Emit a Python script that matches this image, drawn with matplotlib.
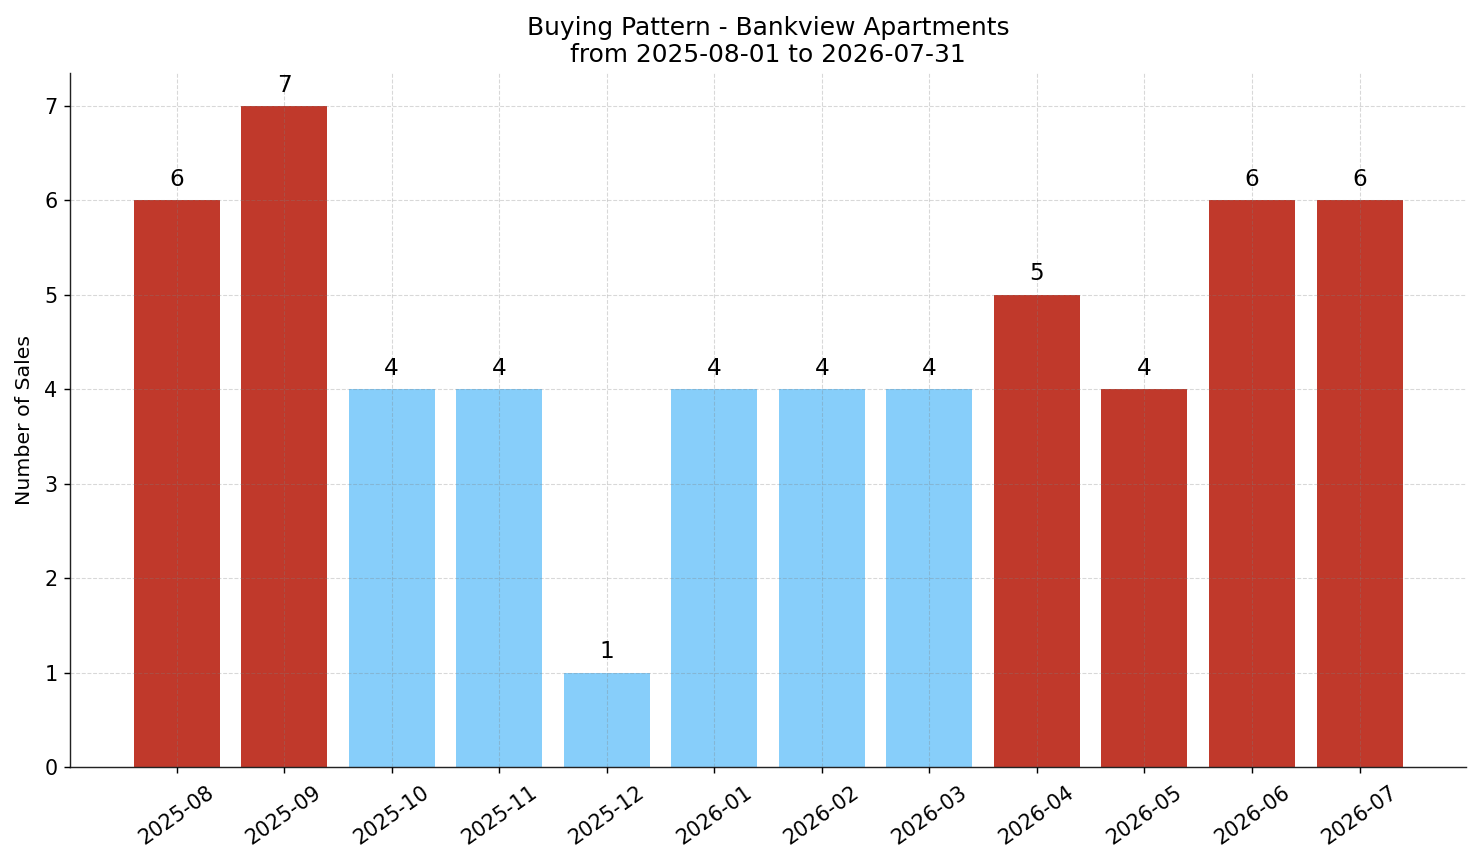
import matplotlib
matplotlib.use("Agg")
import matplotlib.pyplot as plt

months = ["2025-08", "2025-09", "2025-10", "2025-11", "2025-12", "2026-01",
          "2026-02", "2026-03", "2026-04", "2026-05", "2026-06", "2026-07"]
sales = [6, 7, 4, 4, 1, 4, 4, 4, 5, 4, 6, 6]
high_season = [True, True, False, False, False, False, False, False, True, True, True, True]

RED = "#C0392B"
BLUE = "#87CEFA"
colors = [RED if h else BLUE for h in high_season]

DPI = 128
fig = plt.figure(figsize=(1481 / DPI, 863 / DPI), dpi=DPI)
ax = fig.add_axes([0.0473, 0.1112, 0.9426, 0.8042])
x = list(range(len(months)))
ax.bar(x, sales, color=colors, width=0.8)
for xi, v in zip(x, sales):
    ax.text(xi, v + 0.1, str(v), ha="center", va="bottom", fontsize=13)

ax.set_xticks(x)
ax.set_xticklabels(months, rotation=35, fontsize=11.7)
ax.tick_params(axis="y", labelsize=11.7)
ax.tick_params(axis="x", pad=5)
ax.set_ylabel("Number of Sales", fontsize=11.5, labelpad=6)
ax.set_title("Buying Pattern - Bankview Apartments\nfrom 2025-08-01 to 2026-07-31", fontsize=14)
ax.spines["top"].set_visible(False)
ax.spines["right"].set_visible(False)
for s in ("left", "bottom"):
    ax.spines[s].set_color("#222222")
ax.grid(True, linestyle="--", linewidth=0.6, color="gray", alpha=0.3)
ax.set_axisbelow(False)

fig.savefig("out.png", dpi=DPI)
